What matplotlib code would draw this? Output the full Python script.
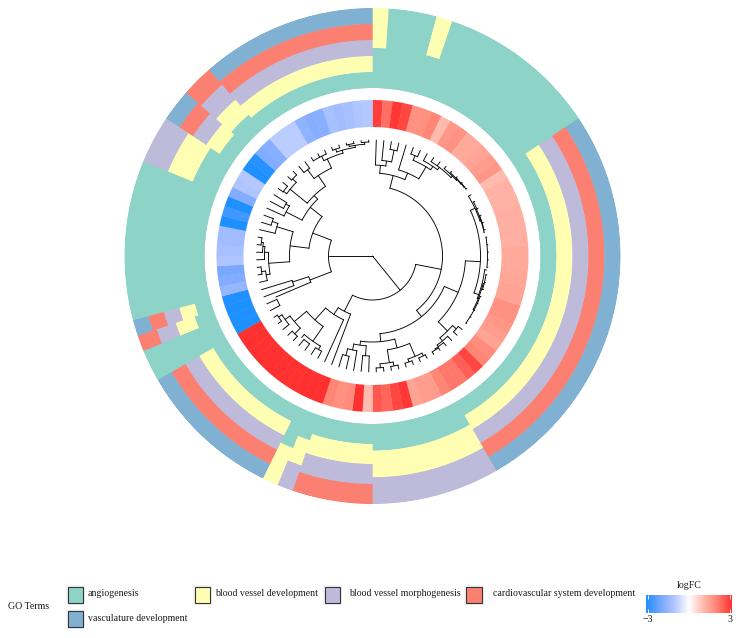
import numpy as np
import matplotlib
matplotlib.use("Agg")
import matplotlib.pyplot as plt
from matplotlib.colors import LinearSegmentedColormap, Normalize
from matplotlib.patches import Rectangle

plt.rcParams['font.family'] = ['Liberation Serif', 'DejaVu Serif']

W, H = 740, 638
CX, CY = 372.5, 256.0

# Genes run clockwise from 12 o'clock, one column each
term_names = ['angiogenesis', 'blood vessel development', 'blood vessel morphogenesis',
              'cardiovascular system development', 'vasculature development']
term_colors = ['#8DD3C7', '#FFFFB3', '#BEBADA', '#FB8072', '#80B1D3']

# how many GO terms each gene has (terms stack in the order above)
n_terms = ([2] + [1]*3 + [2] + [1]*10 + [5]*25 + [3]*8 + [4]*5 + [3, 2] + [5]*9
           + [1]*2 + [4, 5] + [1]*10 + [3]*3 + [5]*2 + [4]*2 + [5]*11)

logfc = [2.8, 2.2, 2.9, 2.7, 1.7, 1.7, 1.9, 1.0, 1.6, 1.7,
         1.3, 1.3, 1.4, 1.5, 1.6, 1.0, 1.15, 1.15, 1.15, 1.2,
         1.2, 1.2, 1.2, 1.3, 1.3, 1.3, 1.35, 1.4, 1.4, 1.7,
         1.7, 1.6, 1.5, 1.4, 1.8, 1.9, 2.7, 2.4, 2.1, 2.1,
         1.9, 1.5, 1.5, 1.4, 2.9, 2.7, 2.3, 2.5, 1.0, 3.0,
         1.8, 1.7, 1.9, 3.0, 3.0, 3.0, 3.0, 3.0, 3.0, 3.0,
         3.0, 3.0, 3.0, 3.0, -3.0, -3.0, -3.0, -3.0, -1.5, -1.8,
         -1.9, -1.1, -1.2, -1.3, -1.3, -3.0, -2.6, -3.0, -1.8, -1.1,
         -1.0, -3.0, -2.9, -1.8, -1.7, -0.9, -0.9, -0.9, -1.6, -1.7,
         -1.7, -1.2, -1.3, -1.2, -1.1, -1.0]

n_genes = len(logfc)
step = 360 / n_genes


def N(r, a, *kids):
    return (r, a, kids)


# dendrogram: N(radius, angle in degrees, children...), plain ints are genes
left_a = N(67, 249, N(84, 252, 67, 66), N(105, 247, 65, 64))
left_b = N(83, 277,
           N(104, 266, N(108, 260, 68, N(112, 262, 69, 70)),
             N(108, 272, 71, N(110, 275, 72, N(112, 277, 73, 74)))),
           N(100, 287, 75, N(106, 289, 76, 77)))
left_c = N(79, 308,
           N(97, 297, 78, N(101, 301, 79, 80)),
           N(84, 316,
             N(106, 309, N(110, 306, 81, 82), N(111, 314, 83, 84)),
             N(97, 326, N(108, 323, 85, 86),
               N(107, 335, N(112, 333, 87, 88, 89),
                 N(110, 344, N(113, 341, 90, 91),
                   N(112, 351, N(114, 348, 92, 93), N(114, 356, 94, 95)))))))
left = N(44, 270, left_a, N(64, 291, left_b, left_c))

top = N(83, 14.4,
        N(91, 5, 0, N(96, 8.4, 1, N(108, 11.5, 2, 3))),
        N(90, 23, 4,
          N(104, 31, N(109, 23, 5, 6),
            N(108, 34, 7, N(111, 37, 8, 9,
                            N(113, 45, 10, N(114, 48, 11, N(114.5, 51, 12, N(115, 53, 13, 14)))))))))
right = N(108, 93,
          N(113, 65, 15,
            N(114, 72, N(114.5, 66, 16, 17), N(114.5, 78, 18, 19, 20))),
          N(113, 110,
            N(115, 97, 21, 22, 23, 24, 25),
            N(114, 112, N(115, 104, 26, 27, 28), N(115, 118, 29, 30, 31, 32, 33))))
low_right = N(106, 135, N(111, 131, 34, 35),
              N(110, 140.5, 36, N(112, 144, 37, N(113, 146, 38, 39))))
bottom = N(86, 174.5,
           N(95, 165,
             N(109, 157, N(112, 153, 40, 41), N(112, 161, 42, 43)),
             N(108, 171, N(112, 169, 44, 45), N(112, 176, 46, 47))),
           N(90, 188, N(100, 184, 48, 49), N(96, 192, 50, N(103, 195, 51, 52))))
low_left = N(62, 207, 53,
             N(70, 213.5, 54,
               N(86, 222,
                 N(104, 215, N(108, 210, 55, 56), N(108, 221, 57, 58)),
                 N(102, 230, N(110, 225, 59, 60), N(108, 234, 61, N(112, 237, 62, 63))))))
se = N(44, 141,
       N(70, 101, top, N(78, 141, N(93, 113, right, low_right), bottom)),
       low_left)
root_children = [left, se]

leaf_r = 116
ring_in, ring_out = 168, 248
heat_in, heat_out = 129, 156

fig = plt.figure(figsize=(W/100, H/100), dpi=100)
ax = fig.add_axes([(CX-ring_out)/W, (H-CY-ring_out)/H, 2*ring_out/W, 2*ring_out/H],
                  projection='polar')
ax.set_theta_zero_location('N')
ax.set_theta_direction(-1)
ax.set_ylim(0, ring_out)
ax.axis('off')

theta = np.deg2rad((np.arange(n_genes) + 0.5) * step)
w = np.deg2rad(step)

# GO term stacks, each column shares the ring width equally
counts = np.array(n_terms)
seg = (ring_out - ring_in) / counts
for k, col in enumerate(term_colors):
    has = counts > k
    ax.bar(theta[has], seg[has], width=w*1.04, bottom=ring_in + k*seg[has],
           color=col, linewidth=0, zorder=2 + k*0.01)
# columns with few terms sit on top of the overlap from their neighbours
for i in range(n_genes):
    for k in range(counts[i]):
        ax.bar(theta[i], seg[i], width=w, bottom=ring_in + k*seg[i],
               color=term_colors[k], linewidth=0, zorder=3)

# logFC ring
cmap = LinearSegmentedColormap.from_list('fc', [(0, '#1E90FF'), (1/6, '#76A5FF'), (1/3, '#B4C8FF'),
                                                (0.5, '#FFFFFF'), (2/3, '#FFBBAE'), (5/6, '#FF8070'),
                                                (1, '#FF3030')])
norm = Normalize(-3, 3)
cols = cmap(norm(logfc))
ax.bar(theta, heat_out-heat_in, width=w*1.04, bottom=heat_in, color=cols, linewidth=0)


def draw(node, parent_r):
    if isinstance(node, (int, np.integer)):
        a = (node + 0.5) * step
        ax.plot(np.deg2rad([a, a]), [parent_r, leaf_r], color='k', lw=0.65, solid_capstyle='round')
        return a
    r, a, kids = node
    ax.plot(np.deg2rad([a, a]), [parent_r, r], color='k', lw=0.65, solid_capstyle='round')
    child_a = [draw(c, r) for c in kids]
    t = np.deg2rad(np.linspace(min(child_a), max(child_a), 60))
    ax.plot(t, np.full(60, r), color='k', lw=0.65)
    return a


for c in root_children:
    draw(c, 0)

# legend, in pixels
pix = fig.add_axes([0, 0, 1, 1])
pix.set_xlim(0, W)
pix.set_ylim(H, 0)
pix.axis('off')
pix.patch.set_alpha(0)

swatches = [(67.5, 586.7), (194.5, 586.7), (324.5, 587), (466, 587), (67.5, 610.7)]
labels_x = [88, 215, 349, 492.7, 88]
labels_y = [594, 594, 594, 594, 618.2]
for (sx, sy), col, name, lx, ly in zip(swatches, term_colors, term_names, labels_x, labels_y):
    pix.add_patch(Rectangle((sx-2, sy-2), 19.8, 20, fc='#F2F2F2', ec='none'))
    pix.add_patch(Rectangle((sx, sy), 15.8, 16, fc=col, ec='#333333', lw=0.8))
    pix.text(lx, ly, name, fontsize=7.1, va='center', ha='left', color='#1a1a1a')
pix.text(8.3, 606.7, 'GO Terms', fontsize=7.1, va='center', ha='left', color='#1a1a1a')
pix.text(689, 585.7, 'logFC', fontsize=7.1, va='center', ha='center', color='#1a1a1a')

# colour bar
cb = fig.add_axes([646/W, (H-612.7)/H, 85.7/W, 17.7/H])
cb.imshow(np.linspace(-3, 3, 256)[None, :], cmap=cmap, norm=norm, aspect='auto',
          extent=[-3.13, 3.13, 0, 1])
cb.set_yticks([])
cb.set_xticks([-3, 3], ['\u22123', '3'], fontsize=7.1, color='#1a1a1a')
cb.tick_params(axis='x', direction='in', length=3, width=0.6, color='white', pad=2, top=True)
for s in cb.spines.values():
    s.set_visible(False)

fig.savefig('out.png', dpi=100)
